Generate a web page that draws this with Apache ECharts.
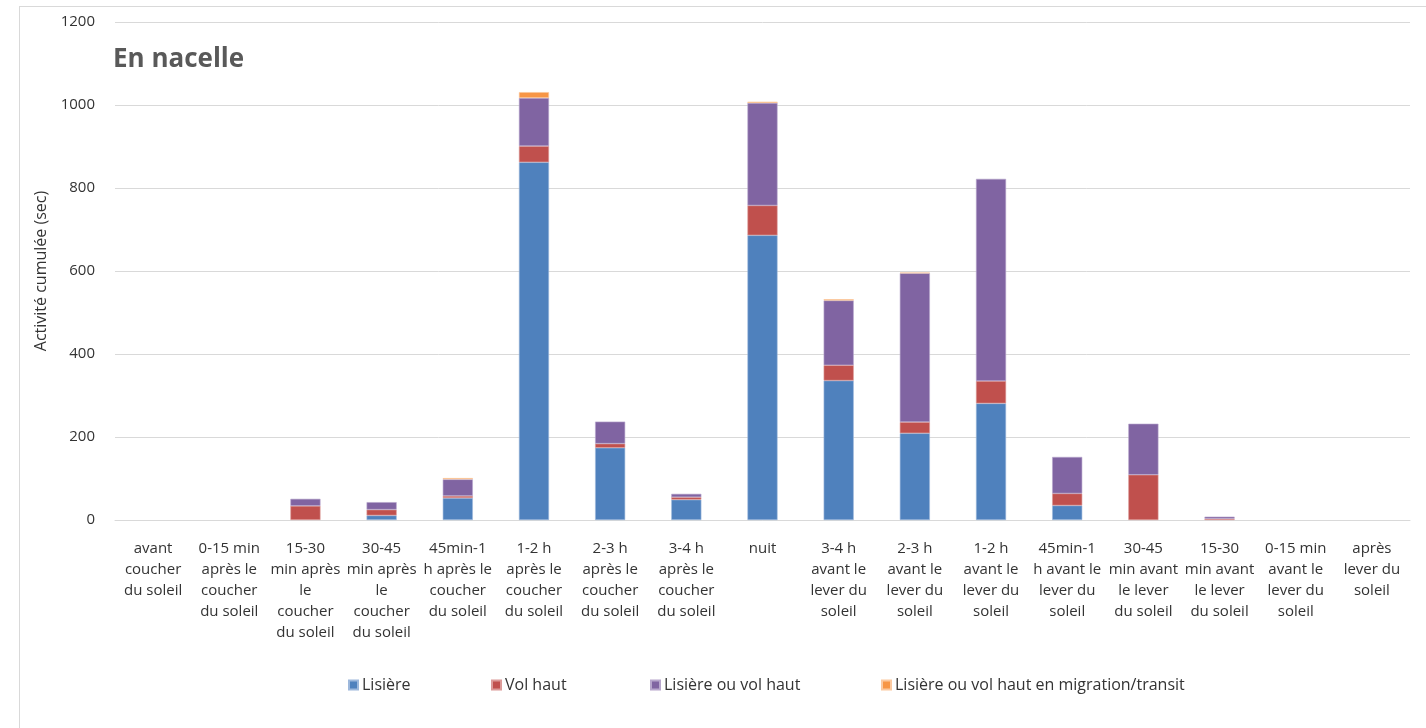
<!DOCTYPE html>
<html>
<head>
<meta charset="utf-8">
<script src="https://cdn.jsdelivr.net/npm/echarts@6/dist/echarts.min.js"></script>
<style>
html,body{margin:0;padding:0;background:#fff;}
#frame{position:absolute;left:19px;top:6px;width:1420px;height:730px;border:1px solid #d9d9d9;box-sizing:border-box;}
#chart{position:absolute;left:0;top:0;width:1426px;height:728px;}
</style>
</head>
<body>
<div id="frame"></div>
<div id="chart"></div>
<script>
const categories = [
  "avant\ncoucher\ndu soleil",
  "0-15 min\naprès le\ncoucher\ndu soleil",
  "15-30\nmin après\nle\ncoucher\ndu soleil",
  "30-45\nmin après\nle\ncoucher\ndu soleil",
  "45min-1\nh après le\ncoucher\ndu soleil",
  "1-2 h\naprès le\ncoucher\ndu soleil",
  "2-3 h\naprès le\ncoucher\ndu soleil",
  "3-4 h\naprès le\ncoucher\ndu soleil",
  "nuit",
  "3-4 h\navant le\nlever du\nsoleil",
  "2-3 h\navant le\nlever du\nsoleil",
  "1-2 h\navant le\nlever du\nsoleil",
  "45min-1\nh avant le\nlever du\nsoleil",
  "30-45\nmin avant\nle lever\ndu soleil",
  "15-30\nmin avant\nle lever\ndu soleil",
  "0-15 min\navant le\nlever du\nsoleil",
  "après\nlever du\nsoleil"
];
const seriesNames = ["Lisière", "Vol haut", "Lisière ou vol haut", "Lisière ou vol haut en migration/transit"];
const lisiere  = [0, 0, 0, 11, 53, 862, 174, 49, 686, 336, 209, 281, 35, 0, 0, 0, 0];
const volHaut  = [0, 0, 34, 14, 5, 39, 10, 6, 72, 37, 27, 54, 29, 109, 3, 0, 0];
const lisiereOuVol = [0, 0, 17, 18, 40, 116, 53, 8, 247, 156, 359, 487, 88, 123, 5, 0, 0];
const transit  = [0, 0, 0, 0, 3, 14, 0, 0, 3, 3, 1, 0, 0, 0, 0, 0, 0];
const yTicks = { min: 0, max: 1200, interval: 200 };

const colors = ["#4F81BD", "#C0504D", "#8064A2", "#F79646"];
const borders = ["#9db8dc", "#dc9a98", "#b7a6cc", "#fbc9a0"];
const dataSets = [lisiere, volHaut, lisiereOuVol, transit];
const FONT = "'Open Sans', sans-serif";

const chart = echarts.init(document.getElementById('chart'), null, { renderer: 'canvas' });
const legendLefts = [343, 486, 645, 876];
const option = {
  animation: false,
  textStyle: { fontFamily: FONT },
  title: {
    text: "En nacelle",
    left: 108, top: 42,
    textStyle: { fontFamily: FONT, fontSize: 26, fontWeight: 'bold', color: '#595959' }
  },
  legend: seriesNames.map((n, i) => ({
    data: [n],
    left: legendLefts[i], top: 672,
    icon: 'rect', itemWidth: 9, itemHeight: 9, itemGap: 5,
    textStyle: { fontFamily: FONT, fontSize: 16, color: '#333', padding: [0, 0, 0, -1] },
    selectedMode: false
  })),
  grid: { left: 115, right: 16, top: 22, bottom: 208, containLabel: false },
  xAxis: {
    type: 'category',
    data: categories,
    axisLine: { show: true, lineStyle: { color: '#d9d9d9', width: 1 } },
    axisTick: { show: false },
    axisLabel: {
      interval: 0, margin: 18,
      fontFamily: FONT, fontSize: 15, lineHeight: 21, color: '#333', align: 'center'
    }
  },
  yAxis: {
    type: 'value',
    min: yTicks.min, max: yTicks.max, interval: yTicks.interval,
    name: 'Activité cumulée (sec)',
    nameLocation: 'middle', nameGap: 56, nameRotate: 90,
    nameTextStyle: { fontFamily: FONT, fontSize: 16, color: '#333' },
    axisLine: { show: false }, axisTick: { show: false },
    axisLabel: { fontFamily: FONT, fontSize: 15, color: '#333', margin: 20, formatter: v => String(v) },
    splitLine: { lineStyle: { color: '#d9d9d9', width: 1 } }
  },
  series: seriesNames.map((n, i) => ({
    name: n, type: 'bar', stack: 'total',
    barWidth: '39.5%',
    data: dataSets[i].map(v => (v === 0 ? null : v)),
    itemStyle: { color: colors[i], borderColor: borders[i], borderWidth: 0.6 },
    emphasis: { disabled: true }
  }))
};
chart.setOption(option);
</script>
</body>
</html>
